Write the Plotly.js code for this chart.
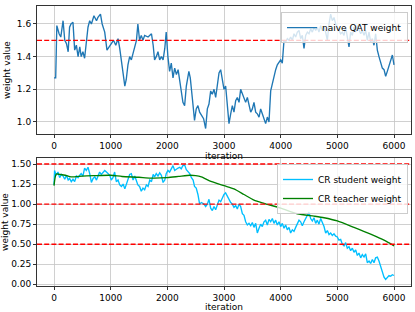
<!DOCTYPE html>
<html>
<head>
<meta charset="utf-8">
<script src="https://cdn.plot.ly/plotly-3.0.1.min.js"></script>
<style>
  html, body { margin: 0; padding: 0; background: #fff; }
  #chart { width: 415px; height: 312px; }
</style>
</head>
<body>
<div id="chart"></div>
<script>
// ---- data ----
const naiveIter = [0,30,50,90,120,150,160,190,220,250,275,300,335,365,395,425,455,480,510,540,570,600,630,660,705,750,775,820,850,895,935,970,1010,1050,1090,1130,1160,1190,1220,1250,1275,1305,1335,1365,1395,1425,1455,1480,1510,1540,1570,1600,1660,1720,1750,1775,1805,1835,1865,1895,1925,1955,1980,2010,2040,2070,2100,2130,2160,2190,2220,2245,2275,2305,2335,2380,2405,2440,2480,2510,2540,2570,2600,2640,2676,2706,2735,2765,2794,2824,2853,2882,2912,2941,2970,3000,3029,3059,3088,3118,3147,3176,3206,3235,3265,3294,3324,3353,3382,3412,3441,3471,3500,3529,3559,3588,3618,3647,3676,3706,3735,3765,3794,3824,3853,3882,3912,3941,3971,4000,4029,4059,4088,4118,4147,4176,4206,4235,4265,4294,4324,4353,4382,4412,4441,4471,4500,4529,4559,4588,4618,4647,4676,4706,4735,4765,4794,4824,4853,4882,4912,4941,4971,5000,5029,5059,5088,5118,5147,5176,5206,5235,5265,5294,5324,5353,5382,5412,5441,5471,5500,5529,5559,5588,5618,5647,5676,5706,5735,5765,5794,5824,5853,5882,5912,5941,5971,6000];
const naiveVal = [1.27,1.27,1.59,1.54,1.52,1.58,1.62,1.50,1.48,1.43,1.58,1.60,1.61,1.44,1.47,1.40,1.46,1.40,1.43,1.39,1.50,1.58,1.62,1.60,1.65,1.62,1.64,1.66,1.60,1.55,1.44,1.46,1.48,1.50,1.47,1.51,1.45,1.37,1.30,1.22,1.26,1.35,1.40,1.38,1.42,1.46,1.50,1.60,1.50,1.53,1.50,1.53,1.52,1.54,1.47,1.38,1.40,1.43,1.38,1.40,1.38,1.45,1.55,1.40,1.31,1.36,1.27,1.33,1.29,1.32,1.25,1.20,1.12,1.10,1.22,1.31,1.27,1.15,1.01,1.08,1.10,1.06,1.04,1.02,0.96,1.08,1.11,1.19,1.17,1.20,1.15,1.22,1.30,1.32,1.25,1.20,1.22,1.10,0.99,1.05,1.10,1.06,1.13,1.15,1.12,1.20,1.17,1.14,1.12,1.15,1.10,1.06,1.08,1.12,1.06,1.05,1.03,1.08,1.05,1.02,0.99,1.03,1.00,1.19,1.24,1.28,1.32,1.35,1.37,1.38,1.36,1.50,1.49,1.51,1.50,1.52,1.50,1.54,1.52,1.55,1.56,1.51,1.53,1.45,1.53,1.55,1.54,1.57,1.55,1.58,1.56,1.58,1.55,1.59,1.56,1.58,1.55,1.50,1.60,1.66,1.62,1.64,1.60,1.58,1.56,1.54,1.55,1.53,1.58,1.52,1.46,1.55,1.53,1.58,1.55,1.59,1.56,1.54,1.56,1.53,1.56,1.50,1.55,1.49,1.51,1.47,1.54,1.44,1.40,1.37,1.33,1.32,1.28,1.31,1.34,1.38,1.41,1.35];

const studentIter = [0,10,40,70,100,130,160,190,220,250,275,305,335,365,395,425,455,480,510,540,570,600,630,660,690,720,750,775,805,835,865,895,925,955,985,1010,1040,1070,1100,1130,1160,1190,1220,1250,1275,1305,1335,1365,1395,1425,1455,1480,1510,1540,1570,1600,1630,1660,1690,1720,1750,1775,1805,1835,1865,1895,1925,1955,1980,2010,2040,2070,2100,2130,2160,2190,2220,2245,2275,2305,2335,2365,2395,2425,2455,2480,2510,2540,2570,2600,2647,2676,2706,2735,2765,2794,2824,2853,2882,2912,2941,2970,3000,3029,3059,3088,3118,3147,3176,3206,3235,3265,3294,3324,3353,3382,3412,3441,3471,3500,3529,3559,3588,3618,3647,3676,3706,3735,3765,3794,3824,3853,3882,3912,3941,3971,4000,4029,4059,4088,4118,4147,4176,4206,4235,4265,4294,4324,4353,4382,4412,4441,4471,4500,4529,4559,4588,4618,4647,4676,4706,4735,4765,4794,4824,4853,4882,4912,4941,4971,5000,5029,5059,5088,5118,5147,5176,5206,5235,5265,5294,5324,5353,5382,5412,5441,5471,5500,5529,5559,5588,5618,5647,5676,5706,5735,5765,5794,5824,5853,5882,5912,5941,5971,6000];
const studentVal = [1.24,1.42,1.36,1.40,1.33,1.37,1.35,1.31,1.36,1.30,1.32,1.28,1.31,1.28,1.35,1.33,1.36,1.38,1.35,1.45,1.42,1.46,1.38,1.27,1.32,1.34,1.30,1.36,1.40,1.37,1.39,1.42,1.40,1.38,1.36,1.30,1.33,1.40,1.28,1.30,1.24,1.22,1.25,1.19,1.25,1.32,1.37,1.38,1.30,1.35,1.28,1.24,1.22,1.16,1.20,1.18,1.24,1.22,1.30,1.28,1.37,1.34,1.38,1.35,1.39,1.36,1.27,1.30,1.38,1.42,1.40,1.45,1.48,1.42,1.44,1.45,1.46,1.44,1.48,1.49,1.43,1.40,1.38,1.33,1.30,1.22,1.20,1.12,1.00,1.02,1.00,0.97,1.00,1.06,0.95,0.92,0.97,0.93,1.00,1.05,1.03,1.08,1.12,1.14,1.10,1.05,1.02,1.00,0.96,0.98,0.94,1.00,0.97,0.88,0.86,0.78,0.74,0.76,0.73,0.77,0.71,0.76,0.64,0.70,0.75,0.72,0.78,0.80,0.74,0.81,0.78,0.82,0.76,0.80,0.74,0.78,0.72,0.76,0.70,0.74,0.68,0.71,0.64,0.68,0.66,0.71,0.76,0.80,0.78,0.73,0.78,0.82,0.88,0.90,0.82,0.79,0.83,0.76,0.80,0.75,0.82,0.78,0.72,0.64,0.67,0.62,0.64,0.61,0.63,0.60,0.59,0.55,0.56,0.50,0.48,0.52,0.45,0.47,0.42,0.45,0.40,0.43,0.36,0.39,0.33,0.37,0.34,0.38,0.27,0.29,0.26,0.31,0.27,0.33,0.34,0.29,0.22,0.18,0.09,0.06,0.08,0.11,0.10,0.12,0.11];

const teacherIter = [0,40,100,200,300,500,700,1000,1200,1500,1700,2000,2200,2400,2500,2600,2647,2745,3000,3176,3353,3529,3706,4000,4294,4588,4765,5000,5294,5588,5824,6000];
const teacherVal = [1.23,1.375,1.37,1.36,1.34,1.35,1.355,1.36,1.345,1.335,1.325,1.33,1.345,1.36,1.355,1.34,1.325,1.29,1.23,1.19,1.12,1.05,1.01,0.95,0.88,0.85,0.83,0.79,0.71,0.625,0.55,0.48];

const topThresholds = [1.5];
const bottomThresholds = [1.5, 1.0, 0.5];

const xTicks = [0,1000,2000,3000,4000,5000,6000];
const topYTicks = [1.0,1.2,1.4,1.6];
const bottomYTicks = [0.00,0.25,0.50,0.75,1.00,1.25,1.50];

// ---- chart ----
const FONT = 'DejaVu Sans, sans-serif';
const traces = [
  {x: naiveIter, y: naiveVal, type: 'scatter', mode: 'lines', name: 'naive QAT weight',
   line: {color: '#1f77b4', width: 1.35}, xaxis: 'x', yaxis: 'y', legend: 'legend'},
  {x: studentIter, y: studentVal, type: 'scatter', mode: 'lines', name: 'CR student weight',
   line: {color: '#00bfff', width: 1.35}, xaxis: 'x2', yaxis: 'y2', legend: 'legend2'},
  {x: teacherIter, y: teacherVal, type: 'scatter', mode: 'lines', name: 'CR teacher weight',
   line: {color: '#008000', width: 1.35, shape: 'spline', smoothing: 0.6}, xaxis: 'x2', yaxis: 'y2', legend: 'legend2'}
];

const shapes = [];
topThresholds.forEach(v => shapes.push({type: 'line', xref: 'x domain', yref: 'y', x0: 0, x1: 1, y0: v, y1: v,
  line: {color: 'red', width: 1.35, dash: '5px,2.2px'}, layer: 'above'}));
bottomThresholds.forEach(v => shapes.push({type: 'line', xref: 'x2 domain', yref: 'y2', x0: 0, x1: 1, y0: v, y1: v,
  line: {color: 'red', width: 1.35, dash: '5px,2.2px'}, layer: 'above'}));

const axCommon = {
  showline: true, mirror: true, linecolor: '#000', linewidth: 0.8,
  ticks: 'outside', ticklen: 3.2, tickwidth: 0.8, tickcolor: '#000',
  showgrid: true, gridcolor: '#c4c4c4', gridwidth: 0.8, zeroline: false,
  tickfont: {family: FONT, size: 9, color: '#000'}
};

const layout = {
  width: 415, height: 312,
  margin: {l: 37, r: 4, t: 6, b: 26},
  paper_bgcolor: '#fff', plot_bgcolor: '#fff',
  font: {family: FONT, size: 9, color: '#000'},
  showlegend: true,
  xaxis: Object.assign({}, axCommon, {domain: [0, 1], anchor: 'y', range: [-300, 6300],
    tickvals: xTicks, tickformat: 'd',
    title: {text: 'iteration', font: {family: FONT, size: 9}, standoff: 2}}),
  yaxis: Object.assign({}, axCommon, {domain: [0.5429, 1], anchor: 'x', range: [0.9265, 1.710],
    tickvals: topYTicks, tickformat: '.1f',
    title: {text: 'weight value', font: {family: FONT, size: 9}, standoff: 4}}),
  xaxis2: Object.assign({}, axCommon, {domain: [0, 1], anchor: 'y2', range: [-300, 6300],
    tickvals: xTicks, tickformat: 'd',
    title: {text: 'iteration', font: {family: FONT, size: 9}, standoff: 2}}),
  yaxis2: Object.assign({}, axCommon, {domain: [0, 0.4571], anchor: 'x2', range: [-0.021, 1.575],
    tickvals: bottomYTicks, tickformat: '.2f',
    title: {text: 'weight value', font: {family: FONT, size: 9}, standoff: 4}}),
  legend: {x: 0.992, y: 0.978, xanchor: 'right', yanchor: 'top',
    bgcolor: 'rgba(255,255,255,0.8)', bordercolor: '#cccccc', borderwidth: 1,
    font: {family: FONT, size: 9}, tracegroupgap: 0},
  legend2: {x: 0.992, y: 0.4357, xanchor: 'right', yanchor: 'top',
    bgcolor: 'rgba(255,255,255,0.8)', bordercolor: '#cccccc', borderwidth: 1,
    font: {family: FONT, size: 9}, tracegroupgap: 0},
  shapes: shapes
};

Plotly.newPlot('chart', traces, layout, {displayModeBar: false, staticPlot: true});
</script>
</body>
</html>
